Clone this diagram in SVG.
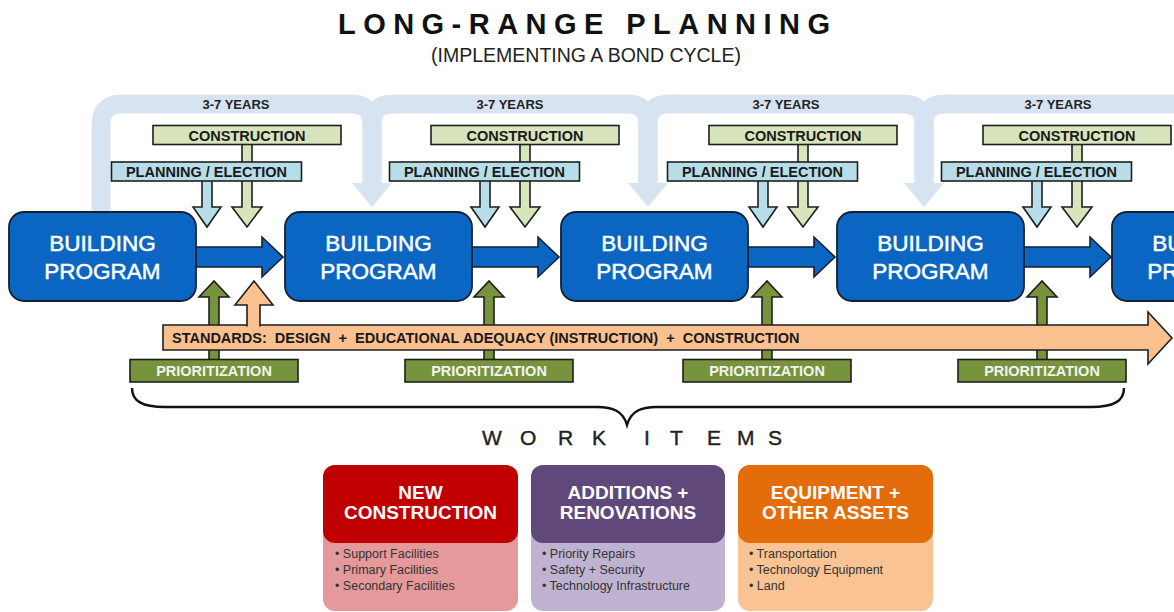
<svg xmlns="http://www.w3.org/2000/svg" width="1174" height="612" viewBox="0 0 1174 612">
<style>
text{font-family:"Liberation Sans",Arial,sans-serif}
.band{fill:none;stroke:#d7e3f0;stroke-width:19}
.bandhead{fill:#d7e3f0}
.lbl{font-size:14.5px;font-weight:bold;fill:#1a1a1a;text-anchor:middle}
.yrs{font-size:13px;font-weight:bold;fill:#222;text-anchor:middle}
.con{fill:#d7e4bc;stroke:#1e1e1e;stroke-width:1.6}
.pln{fill:#b7dee8;stroke:#1e1e1e;stroke-width:1.6}
.pri{fill:#77933c;stroke:#1e1e1e;stroke-width:1.6}
.std{fill:#fac08f;stroke:#1e1e1e;stroke-width:1.6}
.bp{fill:#0a66c2;stroke:#15202e;stroke-width:1.8}
.bptxt{font-size:22.5px;fill:#fff;stroke:#fff;stroke-width:0.5;text-anchor:middle}
.flow{fill:#0a66c2;stroke:#15202e;stroke-width:1.6}
.hd{font-size:19px;font-weight:bold;fill:#fff;text-anchor:middle}
.bl{font-size:12.5px;fill:#333}
.prt{font-size:14.5px;font-weight:bold;fill:#f2f2f2;text-anchor:middle}
</style>

<g id="title">
<text x="338" y="34" font-size="29" font-weight="bold" letter-spacing="7.46" fill="#111">LONG-RANGE PLANNING</text>
<text x="586" y="62" font-size="19.5" fill="#222" text-anchor="middle">(IMPLEMENTING A BOND CYCLE)</text>
</g>

<g id="connectors">
<g id="cycle-bands">
<path class="band" d="M101,212 V125 Q101,104 122,104 H351 Q372,104 372,125 V185"/>
<polygon class="bandhead" points="352,183 392,183 372,207"/>
<path class="band" d="M372,192 V125 Q372,104 393,104 H627 Q648,104 648,125 V185"/>
<polygon class="bandhead" points="628,183 668,183 648,207"/>
<path class="band" d="M648,192 V125 Q648,104 669,104 H903 Q924,104 924,125 V185"/>
<polygon class="bandhead" points="904,183 944,183 924,207"/>
<path class="band" d="M924,192 V125 Q924,104 945,104 H1180"/>
<text class="yrs" x="236" y="109">3-7 YEARS</text>
<text class="yrs" x="510" y="109">3-7 YEARS</text>
<text class="yrs" x="786" y="109">3-7 YEARS</text>
<text class="yrs" x="1058" y="109">3-7 YEARS</text>
</g>
<path class="flow" d="M195,247 H262 V237 L283,257 L262,277 V267 H195 Z"/>
<path class="flow" d="M471,247 H538 V237 L559,257 L538,277 V267 H471 Z"/>
<path class="flow" d="M747,247 H814 V237 L835,257 L814,277 V267 H747 Z"/>
<path class="flow" d="M1023,247 H1090 V237 L1111,257 L1090,277 V267 H1023 Z"/>
<g id="prior-arrows">
<path class="pri" d="M209,359.5 V297 H199 L214,281 L229,297 H219 V359.5"/>
<path class="pri" transform="translate(275,0)" d="M209,359.5 V297 H199 L214,281 L229,297 H219 V359.5"/>
<path class="pri" transform="translate(553,0)" d="M209,359.5 V297 H199 L214,281 L229,297 H219 V359.5"/>
<path class="pri" transform="translate(828,0)" d="M209,359.5 V297 H199 L214,281 L229,297 H219 V359.5"/>
</g>
<path class="std" d="M163,325 H1148 V312 L1172,338 L1148,364 V350 H163 Z"/>
<path class="std" d="M247,326.5 V305 H235 L254,281 L273,305 H260 V326.5"/>
</g>

<g id="std-label">
<text x="172" y="343" font-size="14.5" font-weight="bold" fill="#1a1a1a" xml:space="preserve">STANDARDS:  DESIGN  +  EDUCATIONAL ADEQUACY (INSTRUCTION)  +  CONSTRUCTION</text>
</g>

<g id="prioritization">
<rect class="pri" x="130" y="359.5" width="168" height="22.5"/>
<text class="prt" x="214" y="376">PRIORITIZATION</text>
<rect class="pri" x="405" y="359.5" width="168" height="22.5"/>
<text class="prt" x="489" y="376">PRIORITIZATION</text>
<rect class="pri" x="683" y="359.5" width="168" height="22.5"/>
<text class="prt" x="767" y="376">PRIORITIZATION</text>
<rect class="pri" x="958" y="359.5" width="168" height="22.5"/>
<text class="prt" x="1042" y="376">PRIORITIZATION</text>
</g>

<g id="inputs-1">
<path class="con" d="M242,144 V207 H232 L247,227 L262,207 H252 V144"/>
<rect class="con" x="153" y="125.5" width="188" height="19"/>
<text class="lbl" x="247" y="140.5">CONSTRUCTION</text>
<path class="pln" d="M202,180.5 V207 H193 L207,227 L221,207 H212 V180.5"/>
<rect class="pln" x="111.5" y="162" width="190" height="19"/>
<text class="lbl" x="206.5" y="177">PLANNING / ELECTION</text>
</g>

<g id="inputs-2" transform="translate(278,0)">
<path class="con" d="M242,144 V207 H232 L247,227 L262,207 H252 V144"/>
<rect class="con" x="153" y="125.5" width="188" height="19"/>
<text class="lbl" x="247" y="140.5">CONSTRUCTION</text>
<path class="pln" d="M202,180.5 V207 H193 L207,227 L221,207 H212 V180.5"/>
<rect class="pln" x="111.5" y="162" width="190" height="19"/>
<text class="lbl" x="206.5" y="177">PLANNING / ELECTION</text>
</g>

<g id="inputs-3" transform="translate(556,0)">
<path class="con" d="M242,144 V207 H232 L247,227 L262,207 H252 V144"/>
<rect class="con" x="153" y="125.5" width="188" height="19"/>
<text class="lbl" x="247" y="140.5">CONSTRUCTION</text>
<path class="pln" d="M202,180.5 V207 H193 L207,227 L221,207 H212 V180.5"/>
<rect class="pln" x="111.5" y="162" width="190" height="19"/>
<text class="lbl" x="206.5" y="177">PLANNING / ELECTION</text>
</g>

<g id="inputs-4" transform="translate(830,0)">
<path class="con" d="M242,144 V207 H232 L247,227 L262,207 H252 V144"/>
<rect class="con" x="153" y="125.5" width="188" height="19"/>
<text class="lbl" x="247" y="140.5">CONSTRUCTION</text>
<path class="pln" d="M202,180.5 V207 H193 L207,227 L221,207 H212 V180.5"/>
<rect class="pln" x="111.5" y="162" width="190" height="19"/>
<text class="lbl" x="206.5" y="177">PLANNING / ELECTION</text>
</g>

<g id="bp-1"><rect class="bp" x="9" y="212" width="187" height="89" rx="15"/><text class="bptxt" x="102.5" y="251">BUILDING</text><text class="bptxt" x="102.5" y="279">PROGRAM</text></g>
<g id="bp-2"><rect class="bp" x="285" y="212" width="187" height="89" rx="15"/><text class="bptxt" x="378.5" y="251">BUILDING</text><text class="bptxt" x="378.5" y="279">PROGRAM</text></g>
<g id="bp-3"><rect class="bp" x="561" y="212" width="187" height="89" rx="15"/><text class="bptxt" x="654.5" y="251">BUILDING</text><text class="bptxt" x="654.5" y="279">PROGRAM</text></g>
<g id="bp-4"><rect class="bp" x="837" y="212" width="187" height="89" rx="15"/><text class="bptxt" x="930.5" y="251">BUILDING</text><text class="bptxt" x="930.5" y="279">PROGRAM</text></g>
<g id="bp-5"><rect class="bp" x="1112" y="212" width="187" height="89" rx="15"/><text class="bptxt" x="1205.5" y="251">BUILDING</text><text class="bptxt" x="1205.5" y="279">PROGRAM</text></g>

<g id="brace">
<path d="M132,388 C132,401 142,407 165,407 H597 C613,407 623,411 627,425 C631,411 641,407 657,407 H1091 C1114,407 1124,401 1124,388" fill="none" stroke="#111" stroke-width="2.4"/>
<text x="482 520 558 592 620 644 670 707 737 768" y="445" font-size="21" fill="#222" stroke="#222" stroke-width="0.4">WORK ITEMS</text>
</g>

<g id="card-new">
<rect x="323" y="465" width="195" height="146" rx="12" fill="#e6999b"/>
<rect x="323" y="465" width="195" height="78" rx="12" fill="#c00000"/>
<text class="hd" x="420.5" y="499">NEW</text>
<text class="hd" x="420.5" y="519">CONSTRUCTION</text>
<text class="bl" x="335" y="558">• Support Facilities</text>
<text class="bl" x="335" y="574">• Primary Facilities</text>
<text class="bl" x="335" y="590">• Secondary Facilities</text>
</g>
<g id="card-add">
<rect x="531" y="465" width="194" height="146" rx="12" fill="#bfb3d1"/>
<rect x="531" y="465" width="194" height="78" rx="12" fill="#60497a"/>
<text class="hd" x="628" y="499">ADDITIONS +</text>
<text class="hd" x="628" y="519">RENOVATIONS</text>
<text class="bl" x="542" y="558">• Priority Repairs</text>
<text class="bl" x="542" y="574">• Safety + Security</text>
<text class="bl" x="542" y="590">• Technology Infrastructure</text>
</g>
<g id="card-equip">
<rect x="738" y="465" width="195" height="146" rx="12" fill="#f9c394"/>
<rect x="738" y="465" width="195" height="78" rx="12" fill="#e46c0a"/>
<text class="hd" x="835.5" y="499">EQUIPMENT +</text>
<text class="hd" x="835.5" y="519">OTHER ASSETS</text>
<text class="bl" x="749" y="558">• Transportation</text>
<text class="bl" x="749" y="574">• Technology Equipment</text>
<text class="bl" x="749" y="590">• Land</text>
</g>
</svg>
